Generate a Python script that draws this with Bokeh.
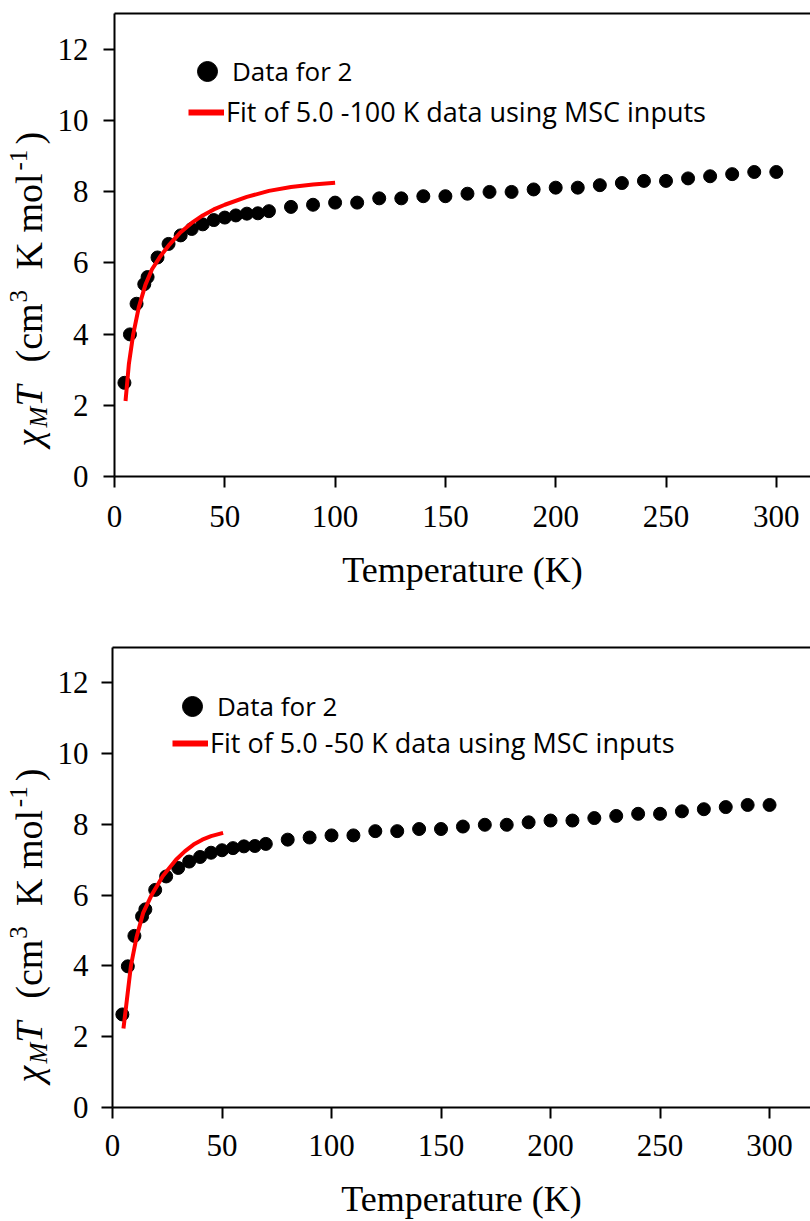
from math import pi
from bokeh.plotting import figure
from bokeh.models import Range1d, FixedTicker, LinearAxis, Legend, LegendItem
from bokeh.core.properties import value
from bokeh.layouts import column, row
from bokeh.embed import file_html
from bokeh.resources import INLINE

# ---- data ----
temperature = [4.5, 7, 10, 13.5, 15, 19.5, 24.5, 30, 35, 40, 45, 50, 55, 60, 65, 70,
               80, 90, 100, 110, 120, 130, 140, 150, 160, 170, 180, 190, 200, 210,
               220, 230, 240, 250, 260, 270, 280, 290, 300]
chiT = [2.63, 3.99, 4.85, 5.40, 5.60, 6.15, 6.53, 6.77, 6.95, 7.08, 7.20, 7.27, 7.33,
        7.38, 7.39, 7.45, 7.57, 7.63, 7.69, 7.69, 7.81, 7.81, 7.87, 7.87, 7.94, 7.99,
        7.99, 8.06, 8.11, 8.11, 8.18, 8.24, 8.30, 8.30, 8.37, 8.43, 8.49, 8.55, 8.55]

fit100_T = [5, 6.5, 8.5, 11, 14, 17, 21, 25, 30, 35, 40, 45, 50, 60, 70, 80, 90, 100]
fit100_chiT = [2.12, 3.15, 4.00, 4.75, 5.38, 5.82, 6.20, 6.52, 6.86, 7.12, 7.33, 7.50,
               7.63, 7.85, 8.02, 8.13, 8.20, 8.25]

fit50_T = [5, 6.6, 8.4, 11, 14, 18, 23, 29, 33, 37, 41, 45, 50.5]
fit50_chiT = [2.23, 3.06, 4.00, 4.82, 5.50, 6.02, 6.54, 7.00, 7.24, 7.43, 7.57, 7.67, 7.76]

x_ticks = [0, 50, 100, 150, 200, 250, 300]
y_ticks = [0, 2, 4, 6, 8, 10, 12]

label_data = "Data for 2"
label_fit100 = "Fit of 5.0 -100 K data using MSC inputs"
label_fit50 = "Fit of 5.0 -50 K data using MSC inputs"
x_title = "Temperature (K)"

SERIF = "Liberation Serif"
SANS = "Open Sans"
RED = "#FF0000"
NAN = float("nan")
Y_MAX = 13

# y-title pieces: text, offset along (px), lateral baseline offset (px), size, style
TITLE_PIECES = [
    ("χ", 0, 0, 38, "italic"),
    ("M", 19, 5, 25, "italic"),
    ("T", 40, 0, 38, "italic"),
    ("(cm", 84, 0, 38, "normal"),
    ("3", 144, -15, 25, "normal"),
    ("K mol", 177, 0, 38, "normal"),
    ("-1", 276, -15, 25, "normal"),
    (")", 302, 0, 38, "normal"),
]

TITLE_W = 52
TOTAL_W = 810


def make_title(height, border_top, frame_h, base_x, start_y):
    t = figure(width=TITLE_W, height=height, x_range=Range1d(0, TITLE_W),
               y_range=Range1d(0, frame_h), output_backend="svg", toolbar_location=None,
               x_axis_type=None, y_axis_type=None, min_border_left=0, min_border_right=0,
               min_border_top=border_top, min_border_bottom=height - border_top - frame_h)
    t.outline_line_color = None
    t.grid.visible = False
    t.border_fill_color = "white"
    t.background_fill_color = "white"
    for text, along, lat, size, style in TITLE_PIECES:
        # anchor is the middle of the text box; baseline sits ~0.34 em below it
        t.text(x=[base_x + lat - 0.34 * size], y=[start_y + along], text=[text],
               angle=pi / 2, text_font=value(SERIF), text_font_size=value(f"{size}px"),
               text_font_style=style, text_color="black",
               text_align="left", text_baseline="middle")
    return t


def make_panel(fit_T, fit_v, fit_label, height, frame_left, x_end, border_top,
               frame_h, s1, s2, ys, dot_loc, line_loc):
    p = figure(width=TOTAL_W - TITLE_W, height=height, x_range=Range1d(0, x_end),
               y_range=Range1d(0, Y_MAX), output_backend="svg", toolbar_location=None,
               min_border_left=frame_left - TITLE_W, min_border_right=0,
               min_border_top=border_top, min_border_bottom=height - border_top - frame_h)
    p.outline_line_color = None
    p.grid.visible = False
    p.background_fill_color = "white"
    p.border_fill_color = "white"

    for ax in (p.xaxis[0], p.yaxis[0]):
        ax.axis_line_width = 2
        ax.axis_line_color = "black"
        ax.major_tick_line_width = 2
        ax.major_tick_line_color = "black"
        ax.major_tick_in = 0
        ax.major_tick_out = 11
        ax.minor_tick_line_color = None
        ax.major_label_text_font = SERIF
        ax.major_label_text_font_size = "31px"
        ax.major_label_text_color = "black"

    xa = p.xaxis[0]
    xa.ticker = FixedTicker(ticks=x_ticks)
    xa.axis_label = x_title
    xa.axis_label_text_font = SERIF
    xa.axis_label_text_font_size = "36px"
    xa.axis_label_text_font_style = "normal"
    xa.axis_label_text_color = "black"
    xa.major_label_standoff = s1
    xa.axis_label_standoff = s2

    ya = p.yaxis[0]
    ya.ticker = FixedTicker(ticks=y_ticks)
    ya.major_label_standoff = ys

    top = LinearAxis(ticker=FixedTicker(ticks=[]), major_tick_line_color=None,
                     minor_tick_line_color=None, major_label_text_font_size="0px",
                     major_label_standoff=0, axis_line_width=2, axis_line_color="black")
    p.add_layout(top, "above")

    dots = p.scatter(temperature, chiT, size=13, fill_color="black", line_color="black")
    p.line(fit_T, fit_v, line_color=RED, line_width=4)
    leg_line = p.line([NAN], [NAN], line_color=RED, line_width=6)

    common = dict(padding=0, margin=0, spacing=0, border_line_color=None,
                  background_fill_alpha=0, label_text_font=SANS, label_text_color="black")
    p.add_layout(Legend(items=[LegendItem(label=label_data, renderers=[dots])],
                        location=dot_loc, glyph_width=50, glyph_height=50,
                        label_standoff=0, label_text_font_size="26px", **common))
    p.add_layout(Legend(items=[LegendItem(label=fit_label, renderers=[leg_line])],
                        location=line_loc, glyph_width=36, glyph_height=36,
                        label_standoff=2, label_text_font_size="27px", **common))
    return p


H1, H2 = 628, 593
TOP1, FH1 = 13, 463
TOP2, FH2 = 19, 461
p1 = make_panel(fit100_T, fit100_chiT, label_fit100, height=H1, frame_left=114,
                x_end=315.5, border_top=TOP1, frame_h=FH1, s1=18, s2=20, ys=15,
                dot_loc=(68, 380), line_loc=(74, 346))
t1 = make_title(H1, TOP1, FH1, base_x=41, start_y=30)
p2 = make_panel(fit50_T, fit50_chiT, label_fit50, height=H2, frame_left=112,
                x_end=318.7, border_top=TOP2, frame_h=FH2, s1=16, s2=20, ys=13,
                dot_loc=(55, 376), line_loc=(60, 346))
t2 = make_title(H2, TOP2, FH2, base_x=41, start_y=25)

layout = column(row(t1, p1), row(t2, p2))
open("out.html", "w").write(file_html(layout, INLINE))
